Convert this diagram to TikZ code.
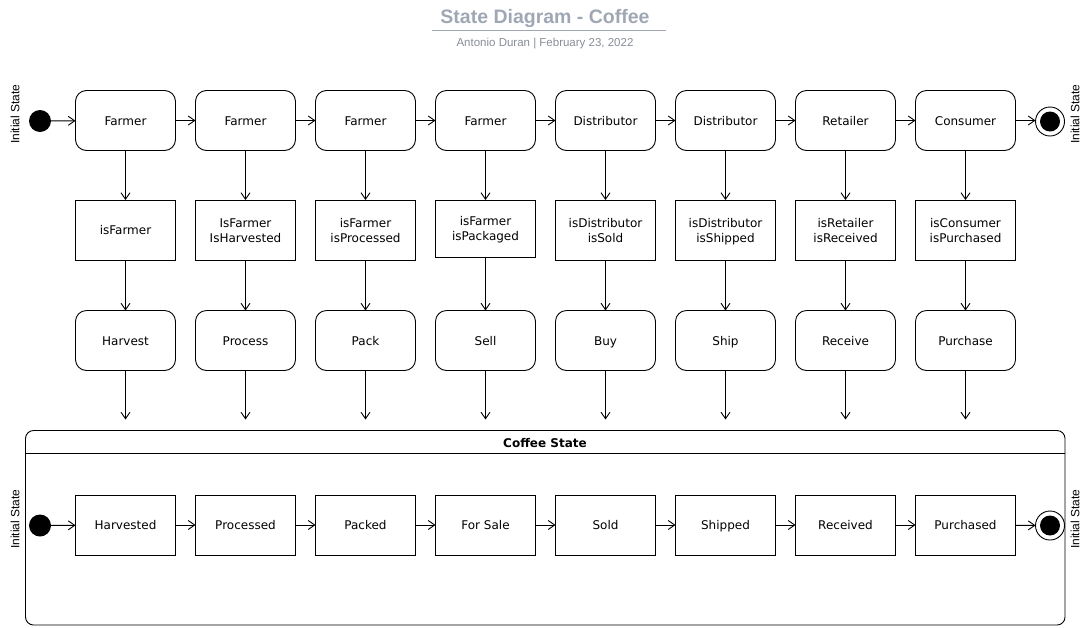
\documentclass[tikz,border=0pt]{standalone}
\usepackage{fontspec}
\setmainfont{DejaVu Sans}
\newfontfamily\helv{Liberation Sans}
\usetikzlibrary{arrows.meta}
\definecolor{titlegray}{RGB}{160,167,180}
\definecolor{subgray}{RGB}{135,141,152}
\begin{document}
\begin{tikzpicture}[x=1pt,y=-1pt,
  stbox/.style={draw,line width=0.9pt,rounded corners=11pt,minimum width=100pt,minimum height=60pt,inner sep=0pt,outer sep=0pt,align=center,text height=10pt,text depth=0.2pt,font=\fontsize{12}{15}\selectfont},
  condbox/.style={stbox,sharp corners},
  twoline/.style={text height=25pt},
  arr/.style={line width=0.9pt,-{Straight Barb[length=6.5pt,width=9pt,line width=0.9pt]}},
  initdot/.style={circle,fill=black,minimum size=22pt,inner sep=0pt,outer sep=0pt},
  finaldot/.style={circle,draw,line width=0.9pt,minimum size=29pt,inner sep=0pt,outer sep=0pt,
     path picture={\fill[black] (path picture bounding box.center) circle (10pt);}},
  sidelabel/.style={rotate=90,font=\helv\fontsize{12}{14}\selectfont,inner sep=0pt},
]
\useasboundingbox (0,0) rectangle (1091,627);

% title
\node[anchor=base,font=\helv\bfseries\fontsize{19.5}{22}\selectfont,text=titlegray,inner sep=0pt] (title) at (545,23.5) {State Diagram - Coffee};
\draw[titlegray,line width=1pt] (432,30.5) -- (666,30.5);
\node[anchor=base,font=\helv\fontsize{11.5}{13}\selectfont,text=subgray,inner sep=0pt] (subtitle) at (545,46.5) {Antonio Duran | February 23, 2022};

% top row
\node[initdot] (i1) at (40,121) {};
\node[sidelabel] (l1) at (15,114) {Initial State};
\node[stbox] (a1) at (125.5,120.5) {Farmer};
\node[stbox] (a2) at (245.5,120.5) {Farmer};
\node[stbox] (a3) at (365.5,120.5) {Farmer};
\node[stbox] (a4) at (485.5,120.5) {Farmer};
\node[stbox] (a5) at (605.5,120.5) {Distributor};
\node[stbox] (a6) at (725.5,120.5) {Distributor};
\node[stbox] (a7) at (845.5,120.5) {Retailer};
\node[stbox] (a8) at (965.5,120.5) {Consumer};
\node[finaldot] (f1) at (1050,121.5) {};
\node[sidelabel] (l2) at (1075,114) {Initial State};

% condition row
\node[condbox] (b1) at (125.5,230) {isFarmer};
\node[condbox,twoline] (b2) at (245.5,230) {IsFarmer\\IsHarvested};
\node[condbox,twoline] (b3) at (365.5,230) {isFarmer\\isProcessed};
\node[condbox,twoline,minimum height=57pt] (b4) at (485.5,228.5) {isFarmer\\isPackaged};
\node[condbox,twoline] (b5) at (605.5,230) {isDistributor\\isSold};
\node[condbox,twoline] (b6) at (725.5,230) {isDistributor\\isShipped};
\node[condbox,twoline] (b7) at (845.5,230) {isRetailer\\isReceived};
\node[condbox,twoline] (b8) at (965.5,230) {isConsumer\\isPurchased};

% action row
\node[stbox] (c1) at (125.5,340.5) {Harvest};
\node[stbox] (c2) at (245.5,340.5) {Process};
\node[stbox] (c3) at (365.5,340.5) {Pack};
\node[stbox] (c4) at (485.5,340.5) {Sell};
\node[stbox] (c5) at (605.5,340.5) {Buy};
\node[stbox] (c6) at (725.5,340.5) {Ship};
\node[stbox] (c7) at (845.5,340.5) {Receive};
\node[stbox] (c8) at (965.5,340.5) {Purchase};

% free ends above container
\foreach \k/\x in {1/125.5,2/245.5,3/365.5,4/485.5,5/605.5,6/725.5,7/845.5,8/965.5}
  \coordinate (e\k) at (\x,419.5);

% container
\node[draw,line width=0.9pt,rounded corners=8pt,minimum width=1039.5pt,minimum height=194.5pt,inner sep=0pt,outer sep=0pt] (box) at (545.25,527.75) {};
\draw[line width=0.9pt] (box.west |- 0,453) coordinate (hl) -- (box.east |- 0,453) coordinate (hr);
\node[font=\bfseries\fontsize{12}{14}\selectfont,inner sep=0pt,text height=10pt,text depth=0.2pt] (ctitle) at (545,443) {Coffee State};

% bottom row
\node[initdot] (i2) at (40,525.5) {};
\node[sidelabel] (l3) at (15,519) {Initial State};
\node[condbox] (d1) at (125.5,525) {Harvested};
\node[condbox] (d2) at (245.5,525) {Processed};
\node[condbox] (d3) at (365.5,525) {Packed};
\node[condbox] (d4) at (485.5,525) {For Sale};
\node[condbox] (d5) at (605.5,525) {Sold};
\node[condbox] (d6) at (725.5,525) {Shipped};
\node[condbox] (d7) at (845.5,525) {Received};
\node[condbox] (d8) at (965.5,525) {Purchased};
\node[finaldot] (f2) at (1050,525.5) {};
\node[sidelabel] (l4) at (1075,519) {Initial State};

% connectors
\draw[arr] (i1) -- (a1);
\draw[arr] (a1) -- (a2);
\draw[arr] (a2) -- (a3);
\draw[arr] (a3) -- (a4);
\draw[arr] (a4) -- (a5);
\draw[arr] (a5) -- (a6);
\draw[arr] (a6) -- (a7);
\draw[arr] (a7) -- (a8);
\draw[arr] (a8) -- (a8.east -| f1.west);
\foreach \k in {1,...,8}{
  \draw[arr] (a\k) -- (b\k);
  \draw[arr] (b\k) -- (c\k);
  \draw[arr] (c\k) -- (e\k);
}
\draw[arr] (i2) -- (d1);
\draw[arr] (d1) -- (d2);
\draw[arr] (d2) -- (d3);
\draw[arr] (d3) -- (d4);
\draw[arr] (d4) -- (d5);
\draw[arr] (d5) -- (d6);
\draw[arr] (d6) -- (d7);
\draw[arr] (d7) -- (d8);
\draw[arr] (d8) -- (f2);
\end{tikzpicture}
\end{document}
